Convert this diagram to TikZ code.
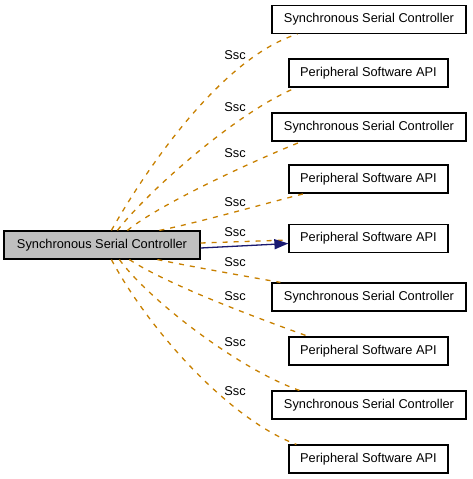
\documentclass[tikz,border=0pt]{standalone}
\usepackage{fontspec}
\setmainfont{Liberation Sans}
\usetikzlibrary{arrows.meta}
\definecolor{usage}{RGB}{200,128,0}
\definecolor{navyedge}{RGB}{25,25,112}
\definecolor{mainfill}{RGB}{191,191,191}
\tikzset{
  box/.style={draw=black, line width=1.2pt, fill=white, inner sep=0pt, minimum height=28pt, font=\fontsize{12.8}{15}\selectfont},
  ssc/.style={box, minimum width=194pt},
  psa/.style={box, minimum width=159pt},
  mainbox/.style={box, fill=mainfill, minimum width=196pt},
  use/.style={draw=usage, line width=1.3pt, dash pattern=on 5pt off 6pt},
  lbl/.style={font=\fontsize{12.8}{15}\selectfont, inner sep=0pt},
  inherit/.style={draw=navyedge, line width=1.3pt, -{Triangle[length=14pt,width=10pt]}}
}
\begin{document}
\begin{tikzpicture}[x=1pt,y=-1pt]
\useasboundingbox (0,0) rectangle (472,479);
\node[mainbox] (main) at (102,245) {Synchronous Serial Controller};
\node[ssc] (n1) at (369,19.5) {Synchronous Serial Controller};
\node[psa] (n2) at (368.5,73) {Peripheral Software API};
\node[ssc] (n3) at (369,127) {Synchronous Serial Controller};
\node[psa] (n4) at (368.5,179) {Peripheral Software API};
\node[psa] (n5) at (368.5,238.5) {Peripheral Software API};
\node[ssc] (n6) at (369,297) {Synchronous Serial Controller};
\node[psa] (n7) at (368.5,351) {Peripheral Software API};
\node[ssc] (n8) at (369,405) {Synchronous Serial Controller};
\node[psa] (n9) at (368.5,459) {Peripheral Software API};

\draw[use] ([xshift=108pt]main.north west) .. controls +(23,-41) and +(-83,26) .. ([xshift=26pt]n1.south west);
\draw[use] ([xshift=114pt]main.north west) .. controls +(32,-41) and +(-57,23) .. ([xshift=8pt]n2.south west);
\draw[use] ([xshift=124pt]main.north west) .. controls +(32,-26) and +(-50,20) .. ([xshift=30pt]n3.south west);
\draw[use] ([xshift=156pt]main.north west) .. controls +(40,-8) and +(-40,10) .. ([xshift=16pt]n4.south west);
\draw[use] ([yshift=2pt]main.east) -- ([yshift=-1.5pt]n5.west);
\draw[inherit] ([yshift=-3pt]main.east) -- ([yshift=-5pt]n5.west);
\draw[use] ([xshift=154pt]main.south west) .. controls +(40,8) and +(-40,-7) .. ([xshift=9pt]n6.north west);
\draw[use] ([xshift=126pt]main.south west) .. controls +(40,26) and +(-50,-18) .. ([xshift=20pt]n7.north west);
\draw[use] ([xshift=116pt]main.south west) .. controls +(30,41) and +(-60,-21) .. ([xshift=28pt]n8.north west);
\draw[use] ([xshift=108pt]main.south west) .. controls +(38,71) and +(-67,-25) .. ([xshift=8pt]n9.north west);

\node[lbl] (l1) at (235,55) {Ssc};
\node[lbl] (l2) at (235,107) {Ssc};
\node[lbl] (l3) at (235,153) {Ssc};
\node[lbl] (l4) at (235,202) {Ssc};
\node[lbl] (l5) at (235,232) {Ssc};
\node[lbl] (l6) at (235,262) {Ssc};
\node[lbl] (l7) at (235,296) {Ssc};
\node[lbl] (l8) at (235,342) {Ssc};
\node[lbl] (l9) at (235,391) {Ssc};
\end{tikzpicture}
\end{document}
